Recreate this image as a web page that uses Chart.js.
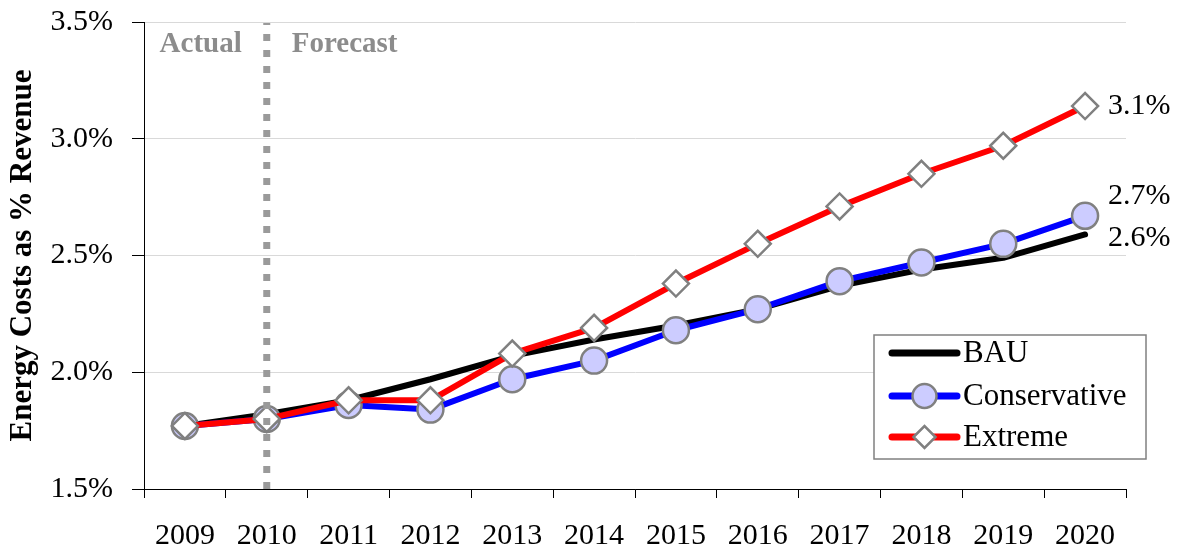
<!DOCTYPE html>
<html>
<head>
  <script src="https://cdn.jsdelivr.net/npm/chart.js"></script>
  <style>
    body { margin: 0; background: #fff; }
  </style>
</head>
<body>
  <div style="width: 1177px; height: 550px; position: relative;">
    <canvas id="energyChart"></canvas>
  </div>

  <script>
    // Energy costs as share of revenue, actual 2009-2010 then forecast scenarios
    const years = ['2009', '2010', '2011', '2012', '2013', '2014', '2015', '2016', '2017', '2018', '2019', '2020'];
    const bau = [1.77, 1.82, 1.88, 1.97, 2.07, 2.14, 2.20, 2.27, 2.37, 2.44, 2.49, 2.59];
    const conservative = [1.77, 1.80, 1.86, 1.84, 1.97, 2.05, 2.18, 2.27, 2.39, 2.47, 2.55, 2.67];
    const extreme = [1.77, 1.80, 1.88, 1.88, 2.08, 2.19, 2.38, 2.55, 2.71, 2.85, 2.97, 3.14];
    const yTicks = [1.5, 2.0, 2.5, 3.0, 3.5];
    const lastActual = '2010';

    const serif = '"Liberation Serif", "Times New Roman", serif';

    // vertical dotted divider between actual and forecast years
    const dividerPlugin = {
      id: 'divider',
      afterDatasetsDraw(chart) {
        const { ctx, chartArea, scales } = chart;
        const x = scales.x.getPixelForValue(years.indexOf(lastActual));
        ctx.save();
        ctx.strokeStyle = '#9a9a9a';
        ctx.lineWidth = 7;
        ctx.setLineDash([7, 9]);
        ctx.beginPath();
        ctx.moveTo(x, chartArea.bottom);
        ctx.lineTo(x, chartArea.top + 1);
        ctx.stroke();
        ctx.setLineDash([]);
        ctx.fillStyle = '#8c8c8c';
        ctx.font = 'bold 29px ' + serif;
        ctx.textBaseline = 'middle';
        ctx.textAlign = 'right';
        ctx.fillText('Actual', x - 25, chartArea.top + 23);
        ctx.textAlign = 'left';
        ctx.fillText('Forecast', x + 25, chartArea.top + 23);
        ctx.restore();
      }
    };

    // value labels next to the 2020 points
    const endLabelOffsets = [4, -20, 0];
    const endLabelPlugin = {
      id: 'endLabels',
      afterDatasetsDraw(chart) {
        const { ctx } = chart;
        ctx.save();
        ctx.fillStyle = '#000';
        ctx.font = '30px ' + serif;
        ctx.textAlign = 'left';
        ctx.textBaseline = 'middle';
        chart.data.datasets.forEach((ds, i) => {
          const pts = chart.getDatasetMeta(i).data;
          const pt = pts[pts.length - 1];
          const v = ds.data[ds.data.length - 1];
          ctx.fillText(v.toFixed(1) + '%', pt.x + 23, pt.y + endLabelOffsets[i]);
        });
        ctx.restore();
      }
    };

    // boxed legend inside the plot, lower right
    const boxLegendPlugin = {
      id: 'boxLegend',
      afterDraw(chart) {
        const { ctx, chartArea } = chart;
        const right = chartArea.right + 20;
        const bottom = chartArea.bottom - 30;
        const w = 272, h = 124;
        const left = right - w, top = bottom - h;
        ctx.save();
        ctx.fillStyle = '#fff';
        ctx.fillRect(left, top, w, h);
        ctx.strokeStyle = '#808080';
        ctx.lineWidth = 1.5;
        ctx.strokeRect(left, top, w, h);

        const rows = [top + 18, top + 61, top + 102];
        ctx.font = '31px ' + serif;
        ctx.textBaseline = 'middle';
        ctx.textAlign = 'left';
        chart.data.datasets.forEach((ds, i) => {
          const y = rows[i];
          const x0 = left + 18, x1 = left + 83, cx = (x0 + x1) / 2;
          ctx.strokeStyle = ds.borderColor;
          ctx.lineWidth = 7;
          ctx.lineCap = 'round';
          ctx.beginPath();
          ctx.moveTo(x0, y);
          ctx.lineTo(x1, y);
          ctx.stroke();
          ctx.lineCap = 'butt';
          if (ds.pointRadius > 0) {
            ctx.fillStyle = ds.pointBackgroundColor;
            ctx.strokeStyle = ds.pointBorderColor;
            ctx.lineWidth = 2.5;
            ctx.beginPath();
            if (ds.pointStyle === 'rectRot') {
              const r = 11;
              ctx.moveTo(cx - r, y);
              ctx.lineTo(cx, y - r);
              ctx.lineTo(cx + r, y);
              ctx.lineTo(cx, y + r);
              ctx.closePath();
            } else {
              ctx.arc(cx, y, 12, 0, Math.PI * 2);
            }
            ctx.fill();
            ctx.stroke();
          }
          ctx.fillStyle = '#000';
          ctx.fillText(ds.label, x1 + 6, y + 1);
        });
        ctx.restore();
      }
    };

    new Chart(document.getElementById('energyChart'), {
      type: 'line',
      data: {
        labels: years,
        datasets: [
          {
            label: 'BAU',
            data: bau,
            borderColor: '#000000',
            borderWidth: 6,
            pointRadius: 0,
            borderCapStyle: 'round',
            borderJoinStyle: 'round',
            tension: 0,
            order: 3
          },
          {
            label: 'Conservative',
            data: conservative,
            borderColor: '#0000ff',
            borderWidth: 6,
            pointStyle: 'circle',
            pointRadius: 13,
            pointBackgroundColor: '#ccccff',
            pointBorderColor: '#808080',
            pointBorderWidth: 2.5,
            borderCapStyle: 'round',
            borderJoinStyle: 'round',
            tension: 0,
            order: 2
          },
          {
            label: 'Extreme',
            data: extreme,
            borderColor: '#ff0000',
            borderWidth: 6,
            pointStyle: 'rectRot',
            pointRadius: 13,
            pointBackgroundColor: '#ffffff',
            pointBorderColor: '#808080',
            pointBorderWidth: 2.5,
            borderCapStyle: 'round',
            borderJoinStyle: 'round',
            tension: 0,
            order: 1
          }
        ]
      },
      options: {
        responsive: true,
        maintainAspectRatio: false,
        animation: false,
        layout: { padding: { top: 22, right: 51, left: 0, bottom: 0 } },
        plugins: {
          legend: { display: false },
          tooltip: { enabled: false }
        },
        scales: {
          x: {
            offset: true,
            grid: {
              offset: true,
              drawOnChartArea: false,
              tickLength: 9,
              tickColor: '#000'
            },
            border: { color: '#000', width: 1 },
            ticks: {
              font: { family: serif, size: 30 },
              color: '#000',
              padding: 20,
              maxRotation: 0,
              autoSkip: false
            },
            afterFit(scale) {
              scale.height = 61;
              scale.paddingLeft = 0;
              scale.paddingRight = 0;
            }
          },
          y: {
            min: yTicks[0],
            max: yTicks[yTicks.length - 1],
            afterBuildTicks(scale) {
              scale.ticks = yTicks.map(v => ({ value: v }));
            },
            ticks: {
              font: { family: serif, size: 30 },
              color: '#000',
              padding: 19,
              callback: v => v.toFixed(1) + '%'
            },
            grid: {
              color: c => (c.tick && c.tick.value === yTicks[0]) ? '#000' : '#d9d9d9',
              tickLength: 12,
              tickColor: '#000'
            },
            border: { color: '#000', width: 1 },
            title: {
              display: true,
              text: 'Energy Costs as % Revenue',
              font: { family: serif, size: 31, weight: 'bold' },
              color: '#000',
              padding: { top: 4, bottom: 0 }
            },
            afterFit(scale) {
              scale.width = 144;
              scale.paddingTop = 0;
              scale.paddingBottom = 0;
            }
          }
        }
      },
      plugins: [dividerPlugin, endLabelPlugin, boxLegendPlugin]
    });
  </script>
</body>
</html>
